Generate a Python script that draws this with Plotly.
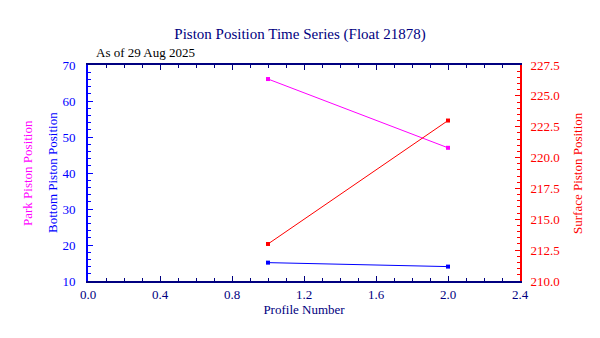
import plotly.graph_objects as go

profiles = [1, 2]
park_pos = [66.1, 47.0]
bottom_pos = [15.1, 14.0]
surface_pos = [213.0, 223.0]

FONT = "Liberation Serif"
NAVY = "#000080"

fig = go.Figure()
fig.add_trace(go.Scatter(x=profiles, y=park_pos, mode="lines+markers",
                         line=dict(color="#ff00ff", width=1),
                         marker=dict(symbol="square", size=4, color="#ff00ff"),
                         name="Park"))
fig.add_trace(go.Scatter(x=profiles, y=bottom_pos, mode="lines+markers",
                         line=dict(color="#0000ff", width=1),
                         marker=dict(symbol="square", size=4, color="#0000ff"),
                         name="Bottom"))
fig.add_trace(go.Scatter(x=profiles, y=surface_pos, mode="lines+markers",
                         line=dict(color="#ff0000", width=1),
                         marker=dict(symbol="square", size=4, color="#ff0000"),
                         name="Surface", yaxis="y2"))

fig.update_layout(
    width=600, height=338,
    margin=dict(l=88, r=80, t=65, b=57),
    paper_bgcolor="white", plot_bgcolor="white",
    showlegend=False,
    font=dict(family=FONT, size=13),
    title=dict(text="Piston Position Time Series (Float 21878)",
               x=0.5, xanchor="center", y=0.9, yanchor="middle",
               font=dict(family=FONT, size=15, color=NAVY)),
    xaxis=dict(range=[0, 2.4], dtick=0.4, tick0=0, tickformat=".1f",
               showgrid=False, zeroline=False,
               showline=True, linecolor=NAVY, linewidth=2, mirror="ticks",
               ticks="inside", ticklen=5, tickcolor=NAVY, tickwidth=1,
               minor=dict(dtick=0.1, ticks="inside", ticklen=3, tickcolor=NAVY),
               tickfont=dict(family=FONT, size=13, color=NAVY),
               ticklabelstandoff=0,
               title=dict(text="Profile Number", standoff=2,
                          font=dict(family=FONT, size=13, color=NAVY))),
    yaxis=dict(range=[10, 70], dtick=10, showgrid=False, zeroline=False,
               showline=True, linecolor="#0000ff", linewidth=2,
               ticks="inside", ticklen=5, tickcolor="#0000ff",
               minor=dict(dtick=2, ticks="inside", ticklen=3, tickcolor="#0000ff"),
               ticklabelstandoff=8,
               tickfont=dict(family=FONT, size=13, color="#0000ff")),
    yaxis2=dict(range=[210, 227.5], dtick=2.5, tick0=210, tickformat=".1f",
                overlaying="y", side="right", anchor="x",
                showgrid=False, zeroline=False,
                showline=True, linecolor="#ff0000", linewidth=2,
                ticks="inside", ticklen=5, tickcolor="#ff0000",
                minor=dict(dtick=0.5, ticks="inside", ticklen=3, tickcolor="#ff0000"),
                ticklabelstandoff=6,
                tickfont=dict(family=FONT, size=13, color="#ff0000")),
)

fig.add_annotation(text="As of 29 Aug 2025", xref="paper", yref="paper",
                   x=0.015, y=1.0, xanchor="left", yanchor="bottom", yshift=3,
                   showarrow=False, font=dict(family=FONT, size=13, color="black"))
fig.add_annotation(text="Park Piston Position", xref="paper", yref="paper",
                   x=0, xshift=-61, y=0.5, textangle=-90,
                   xanchor="center", yanchor="middle",
                   showarrow=False, font=dict(family=FONT, size=13, color="#ff00ff"))
fig.add_annotation(text="Bottom Piston Position", xref="paper", yref="paper",
                   x=0, xshift=-36, y=0.5, textangle=-90,
                   xanchor="center", yanchor="middle",
                   showarrow=False, font=dict(family=FONT, size=13, color="#0000ff"))
fig.add_annotation(text="Surface Piston Position", xref="paper", yref="paper",
                   x=1, xshift=57, y=0.5, textangle=-90,
                   xanchor="center", yanchor="middle",
                   showarrow=False, font=dict(family=FONT, size=13, color="#ff0000"))

fig.write_html("out.html")
